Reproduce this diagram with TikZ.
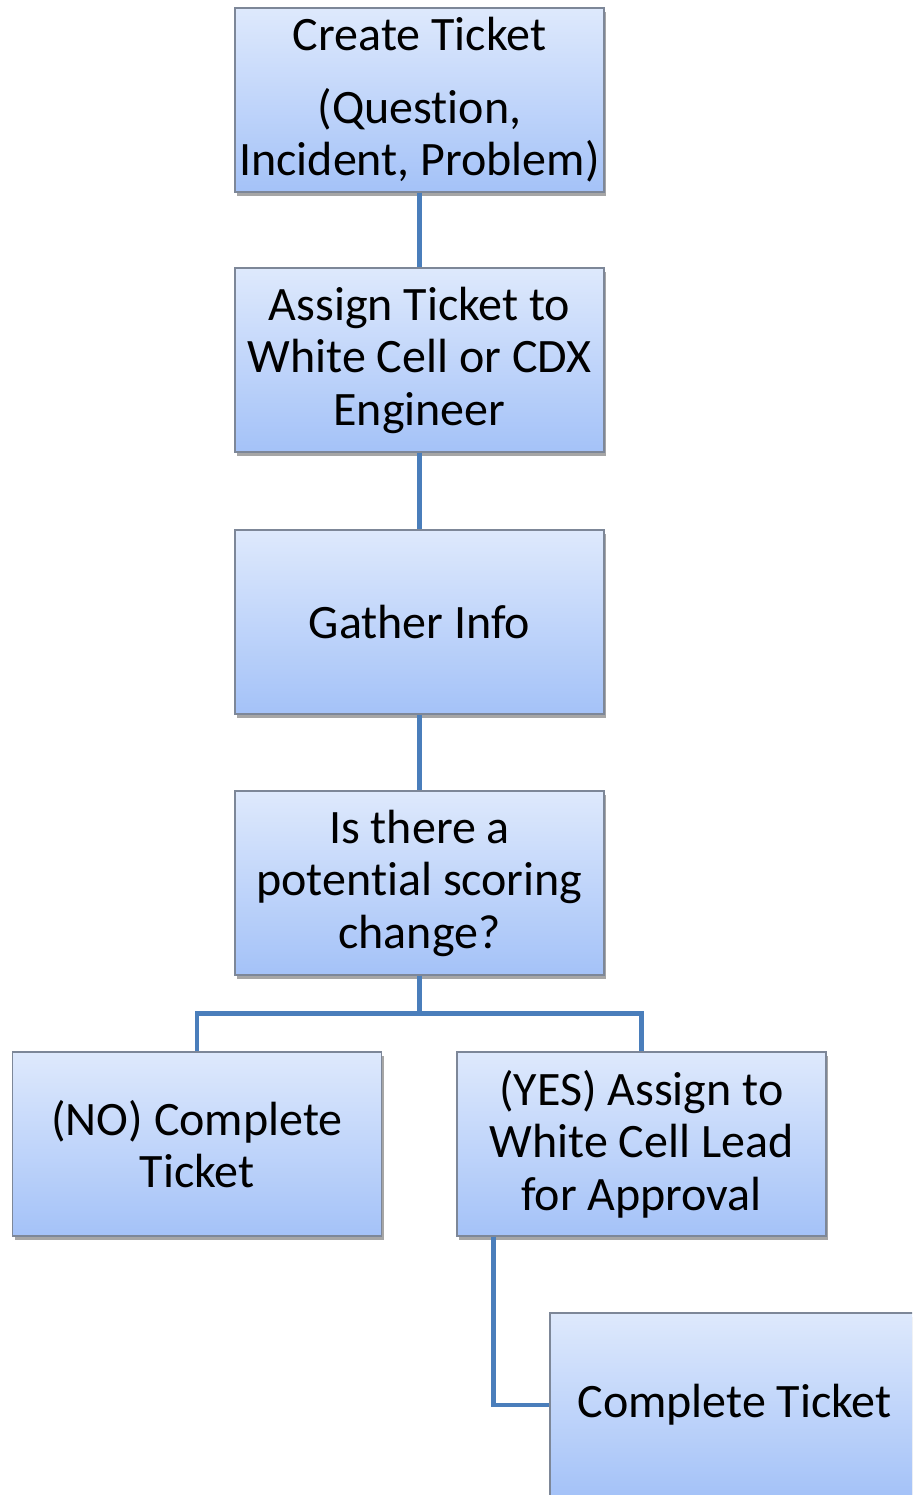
\documentclass[tikz,border=0pt]{standalone}
\usepackage{fontspec}
\setmainfont[Ligatures=NoCommon]{Carlito}
\usetikzlibrary{shadows,calc}
\definecolor{boxtop}{HTML}{DEE9FC}
\definecolor{boxbottom}{HTML}{A4C2F8}
\definecolor{boxline}{HTML}{7D8798}
\definecolor{linkblue}{HTML}{4A7EBB}
\tikzset{
	stepbox/.style={rectangle, draw=boxline, line width=1.2pt, top color=boxtop, bottom color=boxbottom,
		minimum width=369pt, minimum height=184pt, inner sep=0pt, align=center,
		font=\fontsize{48}{52.5}\selectfont,
		drop shadow={shadow xshift=2pt, shadow yshift=-4pt, opacity=.35, fill=black}},
	link/.style={draw=linkblue, line width=4.5pt}
}
\begin{document}
\begin{tikzpicture}[x=1pt,y=-1pt]
			\clip (0,0) rectangle (912,1495);
			\node[stepbox] (create) at (419.5,100) {Create Ticket\\[20pt](Question,\\Incident, Problem)};
			\node[stepbox] (assign) at (419.5,360) {Assign Ticket to\\White Cell or CDX\\Engineer};
			\node[stepbox] (gather) at (419.5,622) {Gather Info};
			\node[stepbox] (scoring) at (419.5,883) {Is there a\\potential scoring\\change?};
			\node[stepbox] (no) at (197,1144) {(NO) Complete\\Ticket};
			\node[stepbox] (yes) at (641.5,1144) {(YES) Assign to\\White Cell Lead\\for Approval};
			\node[stepbox] (done) at (734.5,1405) {Complete Ticket};
			\coordinate (split) at ($(scoring.south)+(0,38)$);
			\draw[link] (create.south) -- (assign.north) (assign.south) -- (gather.north) (gather.south) -- (scoring.north);
			\draw[link] (scoring.south) -- (split) -| (no.north) (split) -| (yes.north);
			\draw[link] ([xshift=37pt]yes.south west) |- (done.west);
		\end{tikzpicture}
\end{document}
